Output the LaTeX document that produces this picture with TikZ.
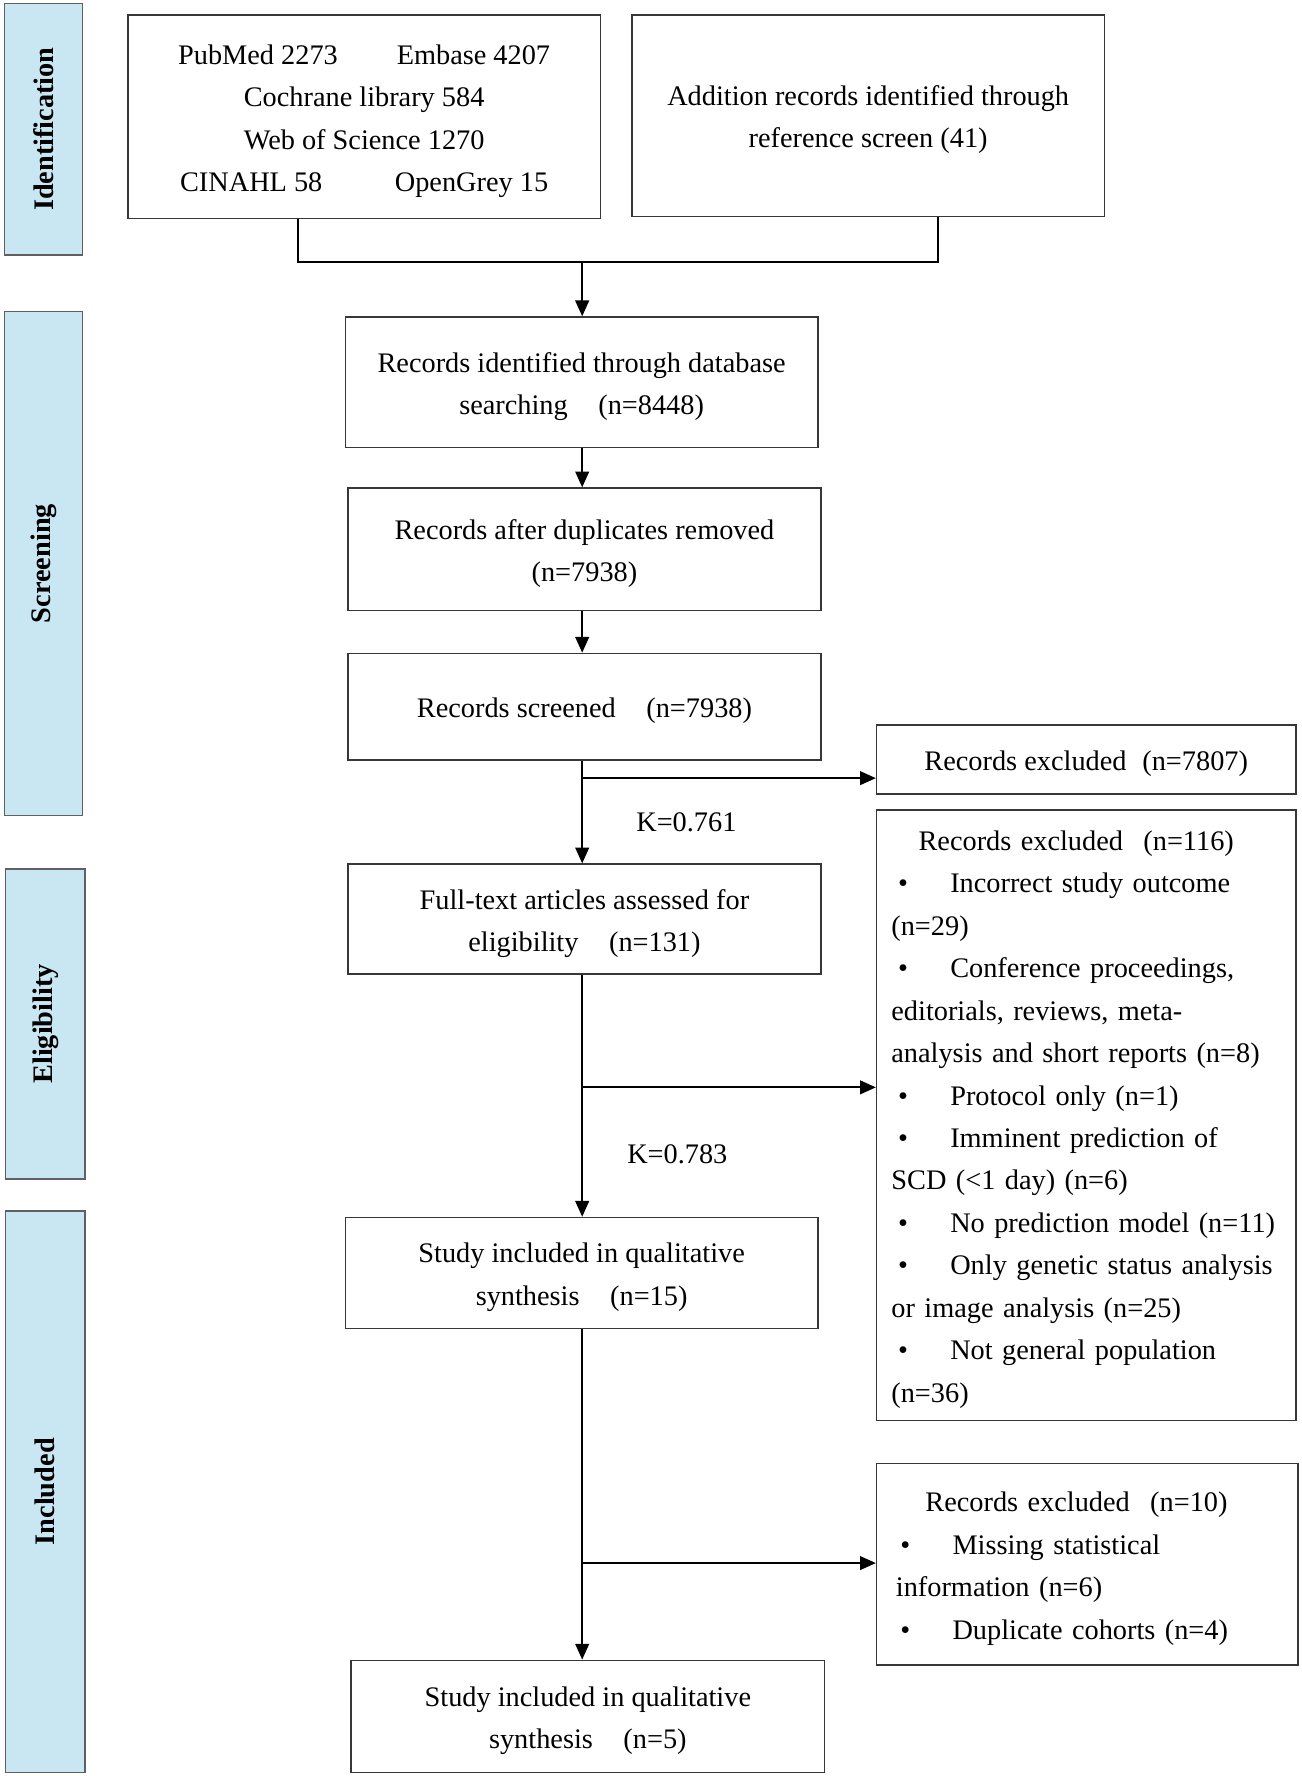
\documentclass[tikz,border=0pt]{standalone}
\usepackage{fontspec}
\setmainfont{Liberation Serif}
\usetikzlibrary{arrows.meta}
\definecolor{barblue}{RGB}{200,231,242}
\definecolor{boxline}{RGB}{55,55,55}
\newcommand\igap{\hspace{13.5pt}}
\newcommand\tp{\rule{0pt}{12.5pt}}
\newcommand\bul{\makebox[25pt][l]{\hspace{2pt}\textbullet}}
\begin{document}
\begin{tikzpicture}[x=0.5pt,y=-0.5pt,
  box/.style={draw=boxline, line width=0.7pt, align=center, inner sep=0pt,
    font=\fontsize{12.5}{18.75}\selectfont},
  lbox/.style={draw=boxline, line width=0.7pt, align=left, inner xsep=8.5pt, inner ysep=0pt,
    font=\fontsize{12.5}{18.75}\selectfont},
  bar/.style={draw=gray!75!black, fill=barblue, line width=0.7pt},
  barlabel/.style={rotate=90, font=\fontsize{12.5}{15}\selectfont\bfseries},
  klabel/.style={font=\fontsize{12.5}{15}\selectfont},
  ln/.style={line width=1pt},
  arr/.style={line width=1pt, -{Triangle[length=7pt,width=6pt]}}]

\useasboundingbox (0,0) rectangle (1149,1568);

% side bars
\draw[bar] (4,3) rectangle (73,225);
\node[barlabel] (lid) at (38.5,114) {Identification};
\draw[bar] (4,275) rectangle (73,720);
\node[barlabel] (lsc) at (38.5,497.5) {Screening};
\draw[bar] (5,767) rectangle (75,1041);
\node[barlabel] (lel) at (40,904) {Eligibility};
\draw[bar] (5,1069) rectangle (75,1565);
\node[barlabel] (lin) at (40,1317) {Included};

% main boxes
\node[box, minimum width=208.5pt, minimum height=90pt] (A) at (321.5,103)
  {\tp PubMed 2273\hspace{26pt}Embase 4207\\
   Cochrane library 584\\
   Web of Science 1270\\
   CINAHL 58\hspace{32pt}OpenGrey 15};
\node[box, minimum width=208.5pt, minimum height=89pt] (B) at (766.5,102)
  {\tp Addition records identified through\\ reference screen (41)};
\node[box, minimum width=208.5pt, minimum height=57.5pt] (C) at (513.5,337.5)
  {\tp Records identified through database\\ searching\igap(n=8448)};
\node[box, minimum width=209pt, minimum height=54pt] (D) at (516,485)
  {\tp Records after duplicates removed\\ (n=7938)};
\node[box, minimum width=209pt, minimum height=47pt] (E) at (516,624)
  {\tp Records screened\igap(n=7938)};
\node[box, minimum width=185pt, minimum height=30.5pt] (R1) at (959,670.5)
  {\tp Records excluded\hspace{7pt}(n=7807)};
\node[box, minimum width=209pt, minimum height=48.5pt] (F) at (516,811.5)
  {\tp Full-text articles assessed for\\ eligibility\igap(n=131)};
\node[lbox, inner xsep=6.5pt, text width=172pt, minimum height=269.5pt] (R2) at (959,984.5)
  {\tp\hspace*{12pt}Records excluded\hspace{9pt}(n=116)\\
   \hspace*{1pt}\bul Incorrect study outcome\\
   (n=29)\\
   \hspace*{1pt}\bul Conference proceedings,\\
   editorials, reviews, meta-\\
   analysis and short reports (n=8)\\
   \hspace*{1pt}\bul Protocol only (n=1)\\
   \hspace*{1pt}\bul Imminent prediction of\\
   SCD (<1 day) (n=6)\\
   \hspace*{1pt}\bul No prediction model (n=11)\\
   \hspace*{1pt}\bul Only genetic status analysis\\
   or image analysis (n=25)\\
   \hspace*{1pt}\bul Not general population\\
   (n=36)};
\node[box, minimum width=208.5pt, minimum height=49pt] (G) at (513.5,1124)
  {\tp Study included in qualitative\\ synthesis\igap(n=15)};
\node[lbox, text width=169pt, minimum height=89pt] (R3) at (960,1381)
  {\tp\hspace*{13pt}Records excluded\hspace{9pt}(n=10)\\
   \bul Missing statistical\\
   information (n=6)\\
   \bul Duplicate cohorts (n=4)};
\node[box, minimum width=209pt, minimum height=49.5pt] (H) at (519,1515.5)
  {\tp Study included in qualitative\\ synthesis\igap(n=5)};

% kappa labels
\node[klabel] (k1) at (606,726) {K=0.761};
\node[klabel] (k2) at (598,1019) {K=0.783};

% connectors
\coordinate (jl) at (263,231);
\coordinate (jr) at (828,231);
\coordinate (jm) at (514,231);
\draw[ln] (A.south -| jl) -- (jl) -- (jr) -- (B.south -| jr);
\draw[arr] (jm) -- (C.north -| jm);
\draw[arr] (C.south -| jm) -- (D.north -| jm);
\draw[arr] (D.south -| jm) -- (E.north -| jm);
\draw[arr] (E.south -| jm) -- (F.north -| jm);
\coordinate (b1) at (514,687);
\draw[arr] (b1) -- (R1.west |- b1);
\draw[arr] (F.south -| jm) -- (G.north -| jm);
\coordinate (b2) at (514,960);
\draw[arr] (b2) -- (R2.west |- b2);
\draw[arr] (G.south -| jm) -- (H.north -| jm);
\coordinate (b3) at (514,1380);
\draw[arr] (b3) -- (R3.west |- b3);
\end{tikzpicture}
\end{document}
